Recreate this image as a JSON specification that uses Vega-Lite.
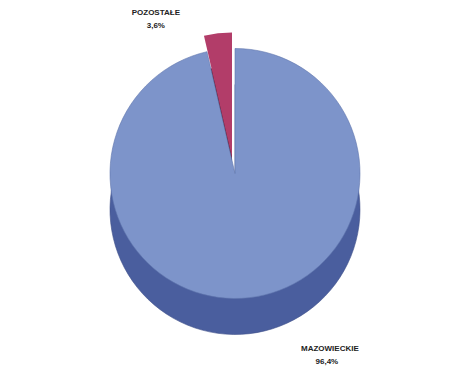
{
  "$schema": "https://vega.github.io/schema/vega-lite/v6.json",
  "width": 470,
  "height": 374,
  "autosize": {"type": "fit", "contains": "padding"},
  "background": "white",
  "view": {"stroke": null},
  "config": {"text": {"font": "Liberation Sans", "fontWeight": "bold", "fontSize": 8, "color": "#222222"}},
  "data": {"values": [
    {"region": "MAZOWIECKIE", "value": 96.4, "pct": "96,4%"},
    {"region": "POZOSTAŁE", "value": 3.6, "pct": "3,6%"}
  ]},
  "encoding": {
    "theta": {"field": "value", "type": "quantitative", "stack": true},
    "order": {"field": "region", "type": "nominal", "sort": "ascending"}
  },
  "layer": [
    {
      "mark": {"type": "arc", "outerRadius": 125, "yOffset": 18, "color": "#4a5e9e", "stroke": "#3f5189", "strokeWidth": 0.6},
      "encoding": {"opacity": {"condition": {"test": "datum.region === 'POZOSTAŁE'", "value": 0}, "value": 1}}
    },
    {
      "mark": {"type": "arc", "outerRadius": 125, "yOffset": 0, "xOffset": -3, "color": "#5a1d35"},
      "encoding": {"opacity": {"condition": {"test": "datum.region === 'MAZOWIECKIE'", "value": 0}, "value": 1}}
    },
    {
      "mark": {"type": "arc", "outerRadius": 125, "yOffset": -18, "color": "#7d94ca", "stroke": "#5f75ad", "strokeWidth": 0.6},
      "encoding": {"opacity": {"condition": {"test": "datum.region === 'POZOSTAŁE'", "value": 0}, "value": 1}}
    },
    {
      "mark": {"type": "arc", "outerRadius": 125, "yOffset": -34, "xOffset": -3, "color": "#b23d69"},
      "encoding": {"opacity": {"condition": {"test": "datum.region === 'MAZOWIECKIE'", "value": 0}, "value": 1}}
    },
    {
      "mark": {"type": "text", "radius": 152, "yOffset": -15, "dx": -62, "dy": -12},
      "encoding": {"text": {"field": "region"}, "opacity": {"condition": {"test": "datum.region === 'MAZOWIECKIE'", "value": 0}, "value": 1}}
    },
    {
      "mark": {"type": "text", "radius": 152, "yOffset": -15, "dx": -62, "dy": 1},
      "encoding": {"text": {"field": "pct"}, "opacity": {"condition": {"test": "datum.region === 'MAZOWIECKIE'", "value": 0}, "value": 1}}
    },
    {
      "mark": {"type": "text", "radius": 176, "yOffset": -15, "dx": 75, "dy": -2},
      "encoding": {"text": {"field": "region"}, "opacity": {"condition": {"test": "datum.region === 'POZOSTAŁE'", "value": 0}, "value": 1}}
    },
    {
      "mark": {"type": "text", "radius": 176, "yOffset": -15, "dx": 72, "dy": 11},
      "encoding": {"text": {"field": "pct"}, "opacity": {"condition": {"test": "datum.region === 'POZOSTAŁE'", "value": 0}, "value": 1}}
    }
  ]
}
